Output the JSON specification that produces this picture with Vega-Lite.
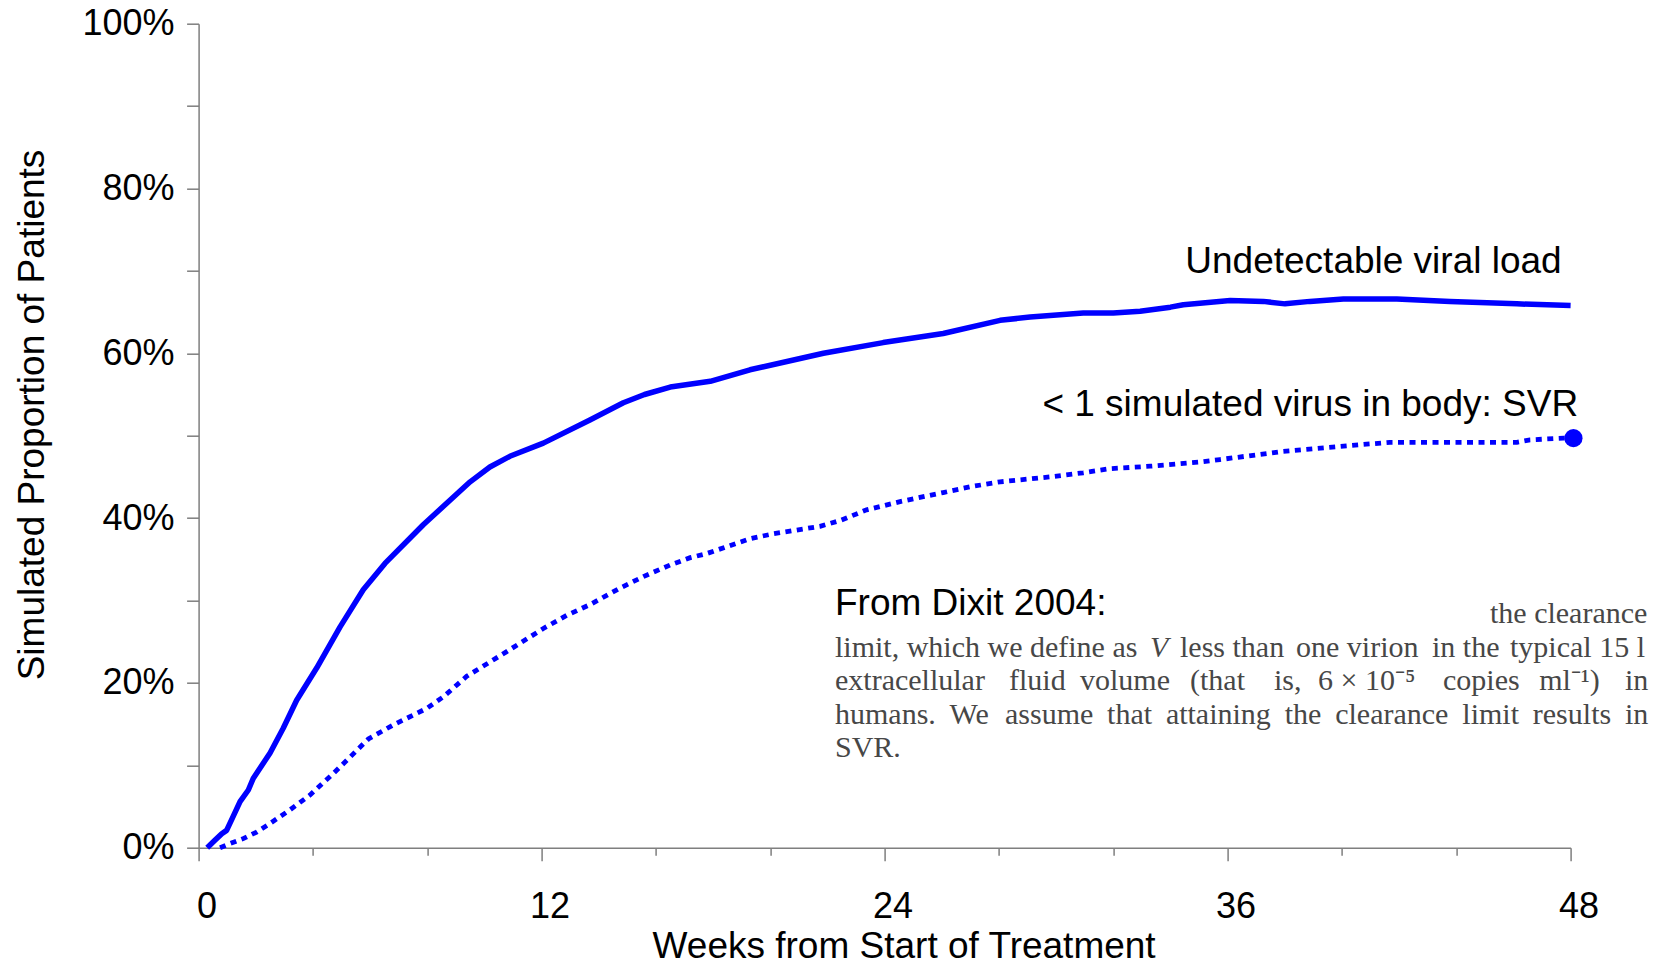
{
  "$schema": "https://vega.github.io/schema/vega-lite/v6.json",
  "width": 1372,
  "height": 824,
  "autosize": {"type": "none"},
  "padding": {"left": 198.6, "top": 23.7, "right": 94.4, "bottom": 118.3},
  "background": "#ffffff",
  "config": {"view": {"stroke": null}, "font": "Liberation Sans", "axis": {"grid": false}},
  "datasets": {
    "uvl": [
      {"week": 0.3, "pct": 0.0},
      {"week": 0.57, "pct": 0.009},
      {"week": 0.81, "pct": 0.017},
      {"week": 0.98, "pct": 0.021},
      {"week": 1.21, "pct": 0.038},
      {"week": 1.45, "pct": 0.056},
      {"week": 1.74, "pct": 0.07},
      {"week": 1.91, "pct": 0.084},
      {"week": 2.5, "pct": 0.115},
      {"week": 2.96, "pct": 0.145},
      {"week": 3.43, "pct": 0.179},
      {"week": 4.13, "pct": 0.218},
      {"week": 4.95, "pct": 0.268},
      {"week": 5.76, "pct": 0.313},
      {"week": 6.52, "pct": 0.345},
      {"week": 7.86, "pct": 0.392},
      {"week": 9.5, "pct": 0.444},
      {"week": 10.19, "pct": 0.462},
      {"week": 10.89, "pct": 0.475},
      {"week": 12.06, "pct": 0.491},
      {"week": 13.69, "pct": 0.519},
      {"week": 14.86, "pct": 0.54},
      {"week": 15.6, "pct": 0.55},
      {"week": 16.5, "pct": 0.559},
      {"week": 17.9, "pct": 0.566},
      {"week": 19.29, "pct": 0.58},
      {"week": 21.86, "pct": 0.6},
      {"week": 23.95, "pct": 0.613},
      {"week": 26.05, "pct": 0.624},
      {"week": 28.04, "pct": 0.64},
      {"week": 29.09, "pct": 0.644},
      {"week": 30.95, "pct": 0.649},
      {"week": 32.0, "pct": 0.649},
      {"week": 32.94, "pct": 0.651},
      {"week": 34.0, "pct": 0.656},
      {"week": 34.45, "pct": 0.659},
      {"week": 36.09, "pct": 0.664},
      {"week": 37.25, "pct": 0.663},
      {"week": 38.01, "pct": 0.66},
      {"week": 38.88, "pct": 0.663},
      {"week": 40.05, "pct": 0.666},
      {"week": 41.92, "pct": 0.666},
      {"week": 43.78, "pct": 0.663},
      {"week": 46.12, "pct": 0.66},
      {"week": 48.0, "pct": 0.658}
    ],
    "svr": [
      {"week": 0.75, "pct": 0.0},
      {"week": 1.1, "pct": 0.005},
      {"week": 1.56, "pct": 0.011},
      {"week": 2.03, "pct": 0.019},
      {"week": 2.44, "pct": 0.028},
      {"week": 3.2, "pct": 0.046},
      {"week": 3.9, "pct": 0.064},
      {"week": 4.71, "pct": 0.09},
      {"week": 5.3, "pct": 0.11},
      {"week": 5.94, "pct": 0.132},
      {"week": 6.81, "pct": 0.149},
      {"week": 7.98, "pct": 0.169},
      {"week": 8.56, "pct": 0.183},
      {"week": 9.38, "pct": 0.208},
      {"week": 10.78, "pct": 0.238},
      {"week": 12.06, "pct": 0.266},
      {"week": 12.88, "pct": 0.282},
      {"week": 13.69, "pct": 0.295},
      {"week": 14.74, "pct": 0.315},
      {"week": 15.56, "pct": 0.329},
      {"week": 16.49, "pct": 0.343},
      {"week": 17.2, "pct": 0.352},
      {"week": 17.78, "pct": 0.357},
      {"week": 19.29, "pct": 0.375},
      {"week": 20.11, "pct": 0.381},
      {"week": 21.74, "pct": 0.39},
      {"week": 22.44, "pct": 0.397},
      {"week": 23.37, "pct": 0.41},
      {"week": 24.54, "pct": 0.42},
      {"week": 26.05, "pct": 0.431},
      {"week": 26.99, "pct": 0.438},
      {"week": 28.04, "pct": 0.444},
      {"week": 29.79, "pct": 0.45},
      {"week": 30.95, "pct": 0.455},
      {"week": 31.89, "pct": 0.46},
      {"week": 33.3, "pct": 0.463},
      {"week": 35.03, "pct": 0.468},
      {"week": 35.73, "pct": 0.471},
      {"week": 37.95, "pct": 0.481},
      {"week": 40.28, "pct": 0.488},
      {"week": 41.68, "pct": 0.492},
      {"week": 46.12, "pct": 0.492},
      {"week": 46.58, "pct": 0.495},
      {"week": 47.75, "pct": 0.497},
      {"week": 48.1, "pct": 0.497}
    ],
    "notes": [
      {"label": "Undetectable viral load", "week": 34.52, "pct": 0.6975},
      {"label": "< 1 simulated virus in body: SVR", "week": 29.52, "pct": 0.524},
      {"label": "From Dixit 2004:", "week": 22.265, "pct": 0.2824}
    ],
    "quote": [
      {"label": "the clearance", "week": 45.18, "pct": 0.2727},
      {"label": "limit, which we define as", "week": 22.265, "pct": 0.2318},
      {"label": "less than", "week": 34.335, "pct": 0.2318},
      {"label": "one virion", "week": 38.393, "pct": 0.2318},
      {"label": "in the", "week": 43.152, "pct": 0.2318},
      {"label": "typical 15 l", "week": 45.880, "pct": 0.2318},
      {"label": "extracellular", "week": 22.265, "pct": 0.1914},
      {"label": "fluid", "week": 28.352, "pct": 0.1914},
      {"label": "volume", "week": 30.836, "pct": 0.1914},
      {"label": "(that", "week": 34.685, "pct": 0.1914},
      {"label": "is,", "week": 37.623, "pct": 0.1914},
      {"label": "6 × 10⁻⁵", "week": 39.162, "pct": 0.1914},
      {"label": "copies", "week": 43.536, "pct": 0.1914},
      {"label": "ml⁻¹)", "week": 46.900, "pct": 0.1914},
      {"label": "in", "week": 49.903, "pct": 0.1914},
      {"label": "humans.", "week": 22.265, "pct": 0.1507},
      {"label": "We", "week": 26.274, "pct": 0.1507},
      {"label": "assume", "week": 28.212, "pct": 0.1507},
      {"label": "that", "week": 31.784, "pct": 0.1507},
      {"label": "attaining", "week": 33.841, "pct": 0.1507},
      {"label": "the", "week": 37.998, "pct": 0.1507},
      {"label": "clearance", "week": 39.765, "pct": 0.1507},
      {"label": "limit", "week": 44.211, "pct": 0.1507},
      {"label": "results", "week": 46.678, "pct": 0.1507},
      {"label": "in", "week": 49.899, "pct": 0.1507},
      {"label": "SVR.", "week": 22.265, "pct": 0.1101}
    ],
    "quoteItalic": [
      {"label": "V", "week": 33.285, "pct": 0.2318}
    ]
  },
  "layer": [
    {
      "data": {"name": "uvl"},
      "mark": {"type": "line", "color": "#0000ff", "strokeWidth": 5.5, "strokeJoin": "round"},
      "encoding": {
        "x": {
          "field": "week", "type": "quantitative",
          "scale": {"domain": [0, 48], "nice": false, "zero": false},
          "axis": {
            "values": [0, 4, 8, 12, 16, 20, 24, 28, 32, 36, 40, 44, 48],
            "labelExpr": "datum.value % 12 === 0 ? datum.label : ''",
            "domainColor": "#7f7f7f", "domainWidth": 1.5,
            "tickColor": "#7f7f7f", "tickWidth": 1.5,
            "tickSize": {"condition": {"test": "datum.value % 12 === 0", "value": 13}, "value": 7.5},
            "labelFont": "Liberation Sans", "labelFontSize": 36, "labelColor": "#000000",
            "labelBaseline": "alphabetic", "labelPadding": 56.6, "labelOffset": 8,
            "labelFlush": false, "labelOverlap": false, "labelBound": false,
            "title": "Weeks from Start of Treatment",
            "titleFont": "Liberation Sans", "titleFontSize": 37, "titleFontWeight": "normal", "titleColor": "#000000",
            "titleX": 705, "titleY": 109.5, "titleBaseline": "alphabetic", "titleAlign": "center"
          }
        },
        "y": {
          "field": "pct", "type": "quantitative",
          "scale": {"domain": [0, 1], "nice": false},
          "axis": {
            "values": [0, 0.1, 0.2, 0.3, 0.4, 0.5, 0.6, 0.7, 0.8, 0.9, 1],
            "format": ".0%",
            "labelExpr": "round(datum.value * 100) % 20 === 0 ? datum.label : ''",
            "domainColor": "#7f7f7f", "domainWidth": 1.5,
            "tickColor": "#7f7f7f", "tickWidth": 1.5, "tickSize": 12,
            "labelFont": "Liberation Sans", "labelFontSize": 36, "labelColor": "#000000",
            "labelPadding": 12.6, "labelOverlap": false, "labelFlush": false, "labelBound": false,
            "title": "Simulated Proportion of Patients",
            "titleFont": "Liberation Sans", "titleFontSize": 37, "titleFontWeight": "normal", "titleColor": "#000000",
            "titleAngle": 270, "titleX": -155.6, "titleY": 390.8, "titleBaseline": "alphabetic", "titleAlign": "center"
          }
        }
      }
    },
    {
      "data": {"name": "svr"},
      "mark": {"type": "line", "color": "#0000ff", "strokeWidth": 4.8, "strokeDash": [6, 5.5]},
      "encoding": {
        "x": {"field": "week", "type": "quantitative"},
        "y": {"field": "pct", "type": "quantitative"}
      }
    },
    {
      "data": {"name": "svr"},
      "transform": [{"filter": "datum.week >= 48"}],
      "mark": {"type": "circle", "color": "#0000ff", "opacity": 1, "size": 330},
      "encoding": {
        "x": {"field": "week", "type": "quantitative"},
        "y": {"field": "pct", "type": "quantitative"}
      }
    },
    {
      "data": {"name": "notes"},
      "mark": {"type": "text", "align": "left", "baseline": "alphabetic", "font": "Liberation Sans", "fontSize": 37, "color": "#000000"},
      "encoding": {
        "x": {"field": "week", "type": "quantitative"},
        "y": {"field": "pct", "type": "quantitative"},
        "text": {"field": "label"}
      }
    },
    {
      "data": {"name": "quote"},
      "mark": {"type": "text", "align": "left", "baseline": "alphabetic", "font": "Liberation Serif", "fontSize": 30, "color": "#474747"},
      "encoding": {
        "x": {"field": "week", "type": "quantitative"},
        "y": {"field": "pct", "type": "quantitative"},
        "text": {"field": "label"}
      }
    },
    {
      "data": {"name": "quoteItalic"},
      "mark": {"type": "text", "align": "left", "baseline": "alphabetic", "font": "Liberation Serif", "fontSize": 30, "fontStyle": "italic", "color": "#474747"},
      "encoding": {
        "x": {"field": "week", "type": "quantitative"},
        "y": {"field": "pct", "type": "quantitative"},
        "text": {"field": "label"}
      }
    }
  ]
}
